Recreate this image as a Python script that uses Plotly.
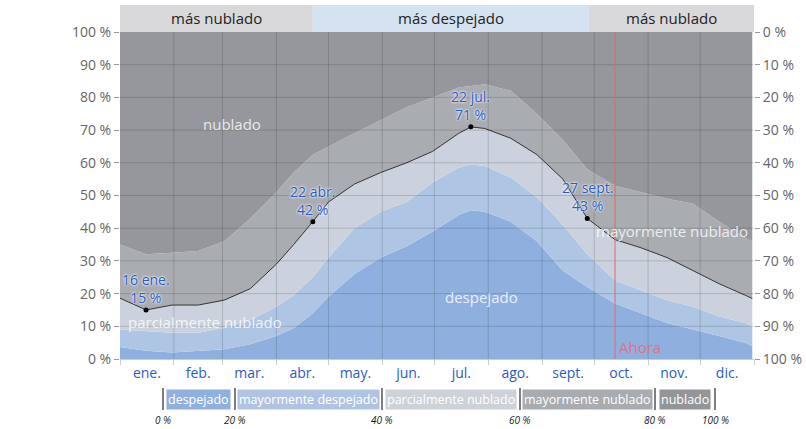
import plotly.graph_objects as go

# month labels and day-of-year boundaries
months = ["ene.", "feb.", "mar.", "abr.", "may.", "jun.",
          "jul.", "ago.", "sept.", "oct.", "nov.", "dic."]
month_edges = [0, 31, 59, 90, 120, 151, 181, 212, 243, 273, 304, 334, 365]

# day of year of each reading
days = [0, 15, 30, 45, 60, 75, 90, 100, 111, 120, 135, 150, 165, 180,
        195, 202, 210, 225, 240, 255, 269, 285, 300, 315, 330, 345, 360, 364]

# percent of time in each cloud-cover category
despejado = [3.7, 2.5, 2, 2.5, 3, 4.5, 7, 9.5, 14, 19, 26, 31, 34.5, 39,
             44, 45.5, 45, 42, 36, 27, 22, 17, 14, 11, 9, 7, 5, 4]
mayormente_despejado = [5.3, 6, 6, 5.5, 6.5, 7.5, 9, 10, 11, 12, 14, 14, 13.5, 15,
                        14.5, 14, 14, 13.5, 13.5, 14, 10, 7, 7, 7, 7, 6, 6, 6]
parcialmente_nublado = [9.6, 6.5, 8.5, 8.5, 8.5, 9.5, 13, 15.5, 17, 17, 13.5, 12, 12, 9.5,
                        10.5, 11.5, 11.5, 12, 13, 14, 11, 12.5, 13, 13, 11, 10, 8.5, 8.5]
mayormente_nublado = [16.4, 17, 16, 16.5, 18, 21.5, 22, 22, 20.5, 17, 15.5, 16, 17, 16.5,
                      14, 12.5, 13.5, 14.5, 12.5, 12, 15, 16.5, 17, 18, 20.5, 19, 17.5, 17.5]
nublado = [65, 68, 67.5, 67, 64, 57, 49, 43, 37.5, 35, 31, 27, 23, 20,
           17, 16.5, 16, 18, 25, 33, 42, 47, 49, 51, 52.5, 58, 63, 64]

# highlighted points on the clearer-sky line
ann_days = [15, 111, 202, 269]
ann_vals = [15, 42, 71, 43]
ann_dates = ["16 ene.", "22 abr.", "22 jul.", "27 sept."]

clearer_start, clearer_end = 111, 270
now_day = 285

cats = ["despejado", "mayormente despejado", "parcialmente nublado",
        "mayormente nublado", "nublado"]
colors = ["#8fb0de", "#afc5e4", "#cbd2dd", "#a9acb1", "#95979c"]
legend_colors = ["#8fb0df", "#b0c4e2", "#cdd1d8", "#a8abb0", "#939598"]
series = [despejado, mayormente_despejado, parcialmente_nublado,
          mayormente_nublado, nublado]

FONT = "Open Sans"
BLUE = "#2a5cc6"

fig = go.Figure()
for name, vals, col in zip(cats, series, colors):
    edge = name == "parcialmente nublado"
    fig.add_trace(go.Scatter(
        x=days, y=vals, name=name, stackgroup="sky", mode="lines",
        fillcolor=col,
        line=dict(color="#333" if edge else col, width=1 if edge else 0),
        hoverinfo="skip"))

# points on the line
fig.add_trace(go.Scatter(x=ann_days, y=ann_vals, mode="markers",
                         marker=dict(color="black", size=5), hoverinfo="skip"))

# dummy trace to carry the month-label axis and the reversed right axis
fig.add_trace(go.Scatter(x=[0, 365], y=[0, 100], xaxis="x2", yaxis="y2",
                         mode="markers", marker=dict(opacity=0), hoverinfo="skip"))

shapes = []
# grid drawn above the bands
for d in month_edges[1:-1]:
    shapes.append(dict(type="line", xref="x", yref="y", x0=d, x1=d, y0=0, y1=100,
                       line=dict(color="rgba(0,0,0,0.15)", width=1), layer="above"))
for v in range(10, 100, 10):
    shapes.append(dict(type="line", xref="x", yref="y", x0=0, x1=365, y0=v, y1=v,
                       line=dict(color="rgba(0,0,0,0.15)", width=1), layer="above"))
# now line
shapes.append(dict(type="line", xref="x", yref="paper", x0=now_day, x1=now_day,
                   y0=0, y1=1, line=dict(color="#e06a6a", width=1), layer="above"))

# top banner
band_top = 1.0826
for x0, x1, col in [(0, clearer_start, "#d9d9db"),
                    (clearer_start, clearer_end, "#d5e2f2"),
                    (clearer_end, 365, "#d9d9db")]:
    shapes.append(dict(type="rect", xref="x", yref="paper", x0=x0, x1=x1,
                       y0=1.0, y1=band_top, fillcolor=col, line=dict(width=0)))

annotations = []
for x0, x1, txt in [(0, clearer_start, "más nublado"),
                    (clearer_start, clearer_end, "más despejado"),
                    (clearer_end, 365, "más nublado")]:
    annotations.append(dict(x=(x0 + x1) / 2, xref="x", y=(1 + band_top) / 2, yref="paper",
                            xanchor="center", yanchor="middle",
                            text=txt, showarrow=False,
                            font=dict(family=FONT, size=15, color="#222")))

for d, v, lab in zip(ann_days, ann_vals, ann_dates):
    annotations.append(dict(x=d, y=v, xref="x", yref="y", yanchor="bottom", yshift=1,
                            text=f"{lab}<br>{v} %", showarrow=False,
                            font=dict(family=FONT, size=14, color=BLUE,
                                      shadow="0px 0px 3px #fff, 0px 0px 2px #fff")))

# band labels
for d, v, txt in [(64.5, 72, "nublado"), (208, 19, "despejado"),
                  (49, 11.3, "parcialmente nublado"), (318, 39, "mayormente nublado")]:
    annotations.append(dict(x=d, y=v, xref="x", yref="y", text=txt, showarrow=False,
                            font=dict(family=FONT, size=15, color="rgba(255,255,255,0.8)")))

annotations.append(dict(x=now_day, y=3.7, xref="x", yref="y", xanchor="left", xshift=2,
                        text="Ahora", showarrow=False,
                        font=dict(family=FONT, size=15, color="#e0708a")))

W, H = 806, 429
L, T, R, B = 120, 32, 754, 359   # plot area in window pixels


def px(x):
    return (x - L) / (R - L)


def py(y):
    return (B - y) / (B - T)


# bottom legend bar
leg_centers = [198.5, 308, 450.5, 587, 684.5]
for c, txt, col in zip(leg_centers, cats, legend_colors):
    annotations.append(dict(x=px(c), y=py(399.5), xref="paper", yref="paper",
                            xanchor="center", yanchor="middle",
                            text=txt, showarrow=False, bgcolor=col, borderpad=1,
                            font=dict(family=FONT, size=12.5, color="white")))
seps = [163, 235, 382, 520, 655, 715]
for s, pct in zip(seps, ["0 %", "20 %", "40 %", "60 %", "80 %", "100 %"]):
    shapes.append(dict(type="line", xref="paper", yref="paper", x0=px(s), x1=px(s),
                       y0=py(388), y1=py(410), line=dict(color="#555", width=1.5)))
    annotations.append(dict(x=px(s), y=py(420), xref="paper", yref="paper",
                            xanchor="center", yanchor="middle",
                            text=f"<i>{pct}</i>", showarrow=False,
                            font=dict(family=FONT, size=10, color="#222")))

mids = [(month_edges[i] + month_edges[i + 1]) / 2 for i in range(12)]
pct_ticks = list(range(0, 101, 10))
pct_text = [f"{v} %" for v in pct_ticks]

fig.update_layout(
    width=W, height=H,
    margin=dict(l=L, r=W - R, t=T, b=H - B, autoexpand=False),
    showlegend=False,
    paper_bgcolor="white", plot_bgcolor="white",
    font=dict(family=FONT),
    xaxis=dict(range=[0, 365], tickvals=month_edges, showticklabels=False,
               ticks="outside", ticklen=5, tickcolor="#ccc", showgrid=False,
               zeroline=False, showline=True, linecolor="#ccc", automargin=False),
    xaxis2=dict(range=[0, 365], overlaying="x", side="bottom", anchor="y",
                tickvals=mids, ticktext=months, ticks="", showgrid=False,
                zeroline=False, automargin=False, ticklabelstandoff=4,
                tickfont=dict(size=14, color=BLUE, family=FONT)),
    yaxis=dict(range=[0, 100], tickvals=pct_ticks, ticktext=pct_text,
               ticks="outside", ticklen=5, tickcolor="#999", showgrid=False,
               zeroline=False, automargin=False,
               tickfont=dict(size=14, color="#666", family=FONT)),
    yaxis2=dict(range=[100, 0], overlaying="y", side="right", tickvals=pct_ticks,
                ticktext=pct_text, ticks="outside", ticklen=5, tickcolor="#999",
                showgrid=False, zeroline=False, automargin=False,
                tickfont=dict(size=14, color="#666", family=FONT)),
    shapes=shapes,
    annotations=annotations,
)

# drop the browser's default body margin so the figure fills the window
fig.write_html("out.html", config={"displayModeBar": False},
               post_script="document.body.style.margin='0';"
                           "document.body.style.overflow='hidden';")
